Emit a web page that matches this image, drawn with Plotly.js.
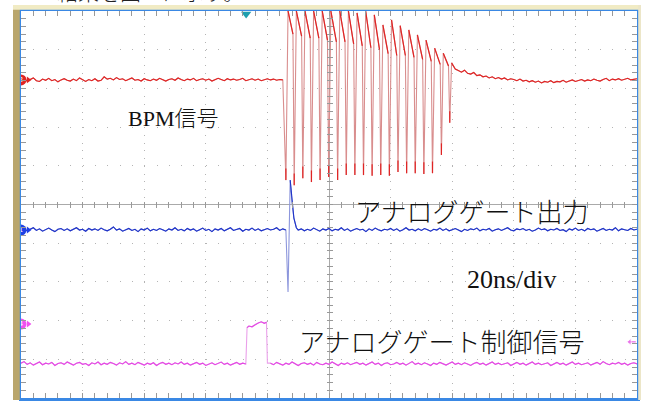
<!DOCTYPE html>
<html><head><meta charset="utf-8">
<script src="https://cdn.plot.ly/plotly-3.0.1.min.js"></script>
<style>html,body{margin:0;padding:0;background:#fff;}#chart{width:645px;height:401px;}</style>
</head><body><div id="chart"></div>
<script>
// ---- data (time in ns, 20 ns/div; amplitude in divisions) ----
// Ch2 (red, BPM signal) baseline samples, t = -100 .. -15 ns, step 1 ns
const redPre = [3.22,3.25,3.19,3.23,3.27,3.2,3.18,3.24,3.21,3.26,
3.2,3.23,3.17,3.22,3.25,3.21,3.19,3.24,3.2,3.27,
3.22,3.18,3.23,3.2,3.25,3.19,3.21,3.3,3.24,3.26,
3.22,3.28,3.23,3.25,3.2,3.24,3.27,3.21,3.23,3.19,
3.25,3.22,3.2,3.24,3.21,3.26,3.22,3.19,3.23,3.25,
3.21,3.27,3.23,3.2,3.24,3.22,3.26,3.2,3.23,3.25,
3.21,3.24,3.19,3.22,3.26,3.23,3.2,3.25,3.22,3.24,
3.21,3.23,3.26,3.2,3.22,3.25,3.21,3.24,3.2,3.23,
3.25,3.22,3.24,3.21,3.23,3.22];
// burst of the BPM signal
const troughT = [-14.0,-11.3,-8.5,-5.7,-2.9,-0.1,2.8,5.6,8.4,11.2,14.0,16.8,19.6,22.4,25.2,28.0,30.8,33.6,36.5,39.2];
const troughV = [0.63,0.5,0.68,0.58,0.63,0.71,0.63,0.76,0.76,0.76,0.74,0.76,0.74,0.84,0.81,0.81,0.79,0.81,1.28,2.11];
const peakT = [-13.3,-10.6,-7.8,-5.0,-2.2,0.6,3.5,6.3,9.1,11.9,14.7,17.5,20.3,23.1,25.9,28.7,31.5,34.3,37.1,39.8];
const peakV = [5.0,5.0,5.0,5.0,5.0,5.0,5.0,5.0,4.95,5.0,4.9,4.64,4.77,4.62,4.51,4.38,4.25,4.04,3.91,3.66];
const decayT = [-11.7,-8.9,-6.1,-3.3,-0.5,2.4,5.2,8.0,10.8,13.6,16.4,19.2,22.0,24.8,27.6,30.4,33.2,36.1,38.8];
const decayV = [4.4,4.35,4.3,4.3,4.25,4.2,4.2,4.15,4.1,4.05,4.0,3.9,3.85,3.85,3.8,3.75,3.7,3.62,3.58];
// Ch2 after the burst, t = 41 .. 100 ns
const redPost = [3.5,3.46,3.42,3.47,3.39,3.37,3.41,3.33,3.35,3.3,
3.32,3.27,3.3,3.25,3.28,3.24,3.27,3.22,3.25,3.23,
3.2,3.24,3.19,3.21,3.17,3.2,3.16,3.19,3.14,3.18,
3.16,3.2,3.15,3.18,3.17,3.21,3.16,3.19,3.22,3.18,
3.2,3.23,3.19,3.22,3.2,3.24,3.21,3.19,3.23,3.26,
3.2,3.24,3.22,3.25,3.21,3.23,3.26,3.22,3.24,3.25];

// Ch1 (blue, analog gate output), t = -100 .. -14 ns
const bluePre = [-0.66,-0.62,-0.68,-0.64,-0.6,-0.67,-0.63,-0.69,-0.65,-0.61,
-0.66,-0.7,-0.64,-0.62,-0.67,-0.63,-0.68,-0.65,-0.6,-0.66,
-0.64,-0.69,-0.62,-0.66,-0.63,-0.67,-0.61,-0.65,-0.68,-0.64,
-0.58,-0.66,-0.63,-0.69,-0.65,-0.62,-0.67,-0.64,-0.7,-0.63,
-0.66,-0.61,-0.68,-0.64,-0.67,-0.62,-0.65,-0.69,-0.63,-0.66,
-0.6,-0.67,-0.64,-0.68,-0.62,-0.66,-0.63,-0.69,-0.65,-0.61,
-0.67,-0.64,-0.7,-0.63,-0.66,-0.62,-0.68,-0.64,-0.6,-0.67,
-0.65,-0.62,-0.69,-0.64,-0.66,-0.61,-0.67,-0.63,-0.68,-0.65,
-0.62,-0.66,-0.64,-0.6,-0.67,-0.63,-0.66];
const bluePulseT = [-13.3,-12.6,-12.0,-11.4,-10.6];
const bluePulseV = [-2.26,0.63,0.05,-0.35,-0.6];
// Ch1, t = -10 .. 100 ns
const bluePost = [-0.66,-0.63,-0.68,-0.64,-0.67,-0.61,-0.65,-0.69,-0.63,-0.66,
-0.62,-0.68,-0.64,-0.66,-0.6,-0.67,-0.63,-0.69,-0.65,-0.62,
-0.66,-0.64,-0.7,-0.63,-0.67,-0.61,-0.65,-0.68,-0.64,-0.66,
-0.62,-0.67,-0.63,-0.69,-0.65,-0.6,-0.66,-0.64,-0.68,-0.63,
-0.67,-0.62,-0.65,-0.69,-0.64,-0.66,-0.61,-0.67,-0.63,-0.68,
-0.65,-0.62,-0.66,-0.7,-0.64,-0.67,-0.63,-0.65,-0.61,-0.68,
-0.64,-0.66,-0.62,-0.69,-0.65,-0.63,-0.67,-0.64,-0.6,-0.66,
-0.68,-0.63,-0.65,-0.62,-0.67,-0.64,-0.69,-0.66,-0.61,-0.65,
-0.63,-0.68,-0.64,-0.66,-0.62,-0.67,-0.65,-0.7,-0.63,-0.66,
-0.61,-0.67,-0.64,-0.68,-0.62,-0.65,-0.63,-0.69,-0.66,-0.62,
-0.67,-0.64,-0.66,-0.6,-0.68,-0.63,-0.65,-0.67,-0.62,-0.66,
-0.64];

// Ch4 (magenta, analog gate control), t = -100 .. -27 ns
const magPre = [-4.1,-4.06,-4.13,-4.09,-4.15,-4.11,-4.07,-4.14,-4.1,-4.12,
-4.08,-4.16,-4.11,-4.09,-4.13,-4.07,-4.12,-4.15,-4.1,-4.08,
-4.13,-4.11,-4.16,-4.09,-4.12,-4.07,-4.14,-4.1,-4.13,-4.08,
-4.11,-4.15,-4.09,-4.12,-4.06,-4.13,-4.1,-4.14,-4.08,-4.12,
-4.15,-4.1,-4.13,-4.09,-4.16,-4.11,-4.08,-4.13,-4.1,-4.14,
-4.09,-4.12,-4.07,-4.13,-4.1,-4.15,-4.11,-4.08,-4.13,-4.1,
-4.16,-4.12,-4.09,-4.14,-4.11,-4.07,-4.13,-4.1,-4.15,-4.12,
-4.08,-4.13,-4.1,-4.12];
const magPulseT = [-26.6,-26,-25,-24,-23,-22,-21,-20.3,-20.0];
const magPulseV = [-3.18,-3.14,-3.16,-3.1,-3.06,-3.03,-3.07,-3.04,-4.1];
// Ch4, t = -19 .. 100 ns
const magPost = [-4.1,-4.14,-4.08,-4.12,-4.15,-4.1,-4.13,-4.07,-4.12,-4.16,
-4.11,-4.09,-4.13,-4.1,-4.15,-4.08,-4.12,-4.14,-4.1,-4.13,
-4.07,-4.12,-4.16,-4.1,-4.13,-4.09,-4.14,-4.11,-4.08,-4.13,
-4.1,-4.15,-4.12,-4.07,-4.13,-4.1,-4.16,-4.11,-4.09,-4.14,
-4.12,-4.08,-4.13,-4.1,-4.15,-4.11,-4.06,-4.13,-4.1,-4.14,
-4.09,-4.12,-4.16,-4.1,-4.13,-4.08,-4.12,-4.15,-4.11,-4.07,
-4.13,-4.1,-4.14,-4.09,-4.12,-4.16,-4.11,-4.08,-4.13,-4.1,
-4.15,-4.12,-4.07,-4.13,-4.1,-4.14,-4.11,-4.09,-4.16,-4.12,
-4.08,-4.13,-4.1,-4.15,-4.11,-4.07,-4.13,-4.1,-4.14,-4.12,
-4.09,-4.16,-4.11,-4.08,-4.13,-4.1,-4.15,-4.12,-4.07,-4.13,
-4.1,-4.14,-4.11,-4.09,-4.15,-4.12,-4.08,-4.13,-4.06,-4.11,
-4.14,-4.1,-4.12,-4.08,-4.13,-4.1,-4.15,-4.11,-4.09,-4.12];

// scope markers
const chLabels = ['2','1','4'];
const chOffsets = [3.22,-0.66,-3.09];
const trigT = -26.9;
const trigLevel = -3.55;

const labels = [
  {text:'BPM信号', t:-50.8, v:2.235, size:22},
  {text:'アナログゲート出力', t:46.4, v:-0.245, size:26},
  {text:'20ns/div', t:59.4, v:-1.925, size:26},
  {text:'アナログゲート制御信号', t:36.4, v:-3.58, size:26}
];
const topText = '結果を図３に示す。';

// ---- helpers ----
const seq = (s, n) => Array.from({length:n}, (_, i) => s + i);
const RED='#e02424', PINK='#d98e8e', BLUE='#1f33c8', LBLUE='#8c96dc', MAG='#e449e4', LMAG='#eaa0ea';
const TIP = 0.3;

// red full waveform
const redX = seq(-100, redPre.length), redY = redPre.slice();
for (let i = 0; i < troughT.length; i++) {
  redX.push(troughT[i], peakT[i]); redY.push(troughV[i], peakV[i]);
  if (i < decayT.length) { redX.push(decayT[i]); redY.push(decayV[i]); }
}
const postX = seq(41, redPost.length);
redX.push(...postX); redY.push(...redPost);
// red overlays
const decX = [], decY = [];
for (let i = 0; i < decayT.length; i++) { decX.push(peakT[i], decayT[i], null); decY.push(peakV[i], decayV[i], null); }
for (let i = 0; i < troughT.length; i++) { decX.push(troughT[i], troughT[i], null); decY.push(troughV[i] + TIP, troughV[i], null); }
const redPostX = [peakT[peakT.length-1], ...postX], redPostY = [peakV[peakV.length-1], ...redPost];

// blue
const bPreX = seq(-100, bluePre.length), bPostX = seq(-10, bluePost.length);
const blueX = [...bPreX, ...bluePulseT, ...bPostX], blueY = [...bluePre, ...bluePulseV, ...bluePost];
const blueDarkX = [...bPreX, null, ...bluePulseT.slice(1), ...bPostX];
const blueDarkY = [...bluePre, null, ...bluePulseV.slice(1), ...bluePost];

// magenta
const mPreX = seq(-100, magPre.length), mPostX = seq(-19, magPost.length);
const magX = [...mPreX, ...magPulseT, ...mPostX], magY = [...magPre, ...magPulseV, ...magPost];
const magDarkX = [...mPreX, null, ...magPulseT.slice(0, -1), null, ...mPostX];
const magDarkY = [...magPre, null, ...magPulseV.slice(0, -1), null, ...magPost];

const L = (x, y, color, w) => ({type:'scatter', mode:'lines', x, y, line:{color, width:w||1}, hoverinfo:'skip', showlegend:false, connectgaps:false});

const traces = [
  L(redX, redY, PINK, 1.1),
  L(seq(-100, redPre.length), redPre, RED, 1.1),
  L(decX, decY, RED, 1.2),
  L(redPostX, redPostY, RED, 1.1),
  L(blueX, blueY, LBLUE, 1.1),
  L(blueDarkX, blueDarkY, BLUE, 1.1),
  L(magX, magY, LMAG, 1.1),
  L(magDarkX, magDarkY, MAG, 1.1),
  {type:'scatter', mode:'markers+text', x:chLabels.map(() => -100), y:chOffsets, text:chLabels,
   textposition:'middle center', textfont:{color:'#fff', size:7, family:'DejaVu Sans'},
   marker:{size:11, color:[RED,'#1e40e6','#f050f0']}, cliponaxis:false, hoverinfo:'skip', showlegend:false},
  {type:'scatter', mode:'markers', x:chLabels.map(() => -97.6), y:chOffsets,
   marker:{size:6, symbol:'triangle-right', color:[RED,'#1e40e6','#f050f0']}, cliponaxis:false, hoverinfo:'skip', showlegend:false},
  {type:'scatter', mode:'markers', x:[trigT], y:[4.92], marker:{size:9, symbol:'triangle-down', color:'#1f9fae'},
   cliponaxis:false, hoverinfo:'skip', showlegend:false},
  {type:'scatter', mode:'lines+markers', x:[97.6, 99.6], y:[trigLevel, trigLevel], line:{color:MAG, width:1},
   marker:{size:[6,0], symbol:'triangle-left', color:MAG}, cliponaxis:false, hoverinfo:'skip', showlegend:false},
  {type:'scatter', mode:'lines', x:[null], y:[null], xaxis:'x2', yaxis:'y2', hoverinfo:'skip', showlegend:false}
];

const TICK = '#999999';
const fontFam = 'Liberation Serif, Noto Sans CJK JP, serif';
const layout = {
  width:645, height:401,
  margin:{l:21, r:8, t:11, b:3, pad:0},
  paper_bgcolor:'#ffffff', plot_bgcolor:'#ffffff',
  showlegend:false,
  xaxis:{range:[-100,100], tick0:-100, dtick:20, showticklabels:false, ticks:'inside', ticklen:5, tickcolor:TICK,
    minor:{dtick:4, tick0:-100, ticks:'inside', ticklen:5, tickcolor:TICK, showgrid:false},
    showgrid:true, gridcolor:'#b4b4b4', gridwidth:1, griddash:'1px,6.74px',
    zeroline:true, zerolinecolor:'#aaaaaa', zerolinewidth:1,
    showline:true, linecolor:'#3a88e4', linewidth:2.5, mirror:'allticks', fixedrange:true},
  yaxis:{range:[-5,5], tick0:-5, dtick:1, showticklabels:false, ticks:'inside', ticklen:5, tickcolor:TICK,
    minor:{dtick:0.2, tick0:-5, ticks:'inside', ticklen:5, tickcolor:TICK, showgrid:false},
    showgrid:true, gridcolor:'#b4b4b4', gridwidth:1, griddash:'1px,11.32px',
    zeroline:true, zerolinecolor:'#aaaaaa', zerolinewidth:1,
    showline:true, linecolor:'#3a88e4', linewidth:2.5, mirror:'allticks', fixedrange:true},
  xaxis2:{overlaying:'x', anchor:'free', position:0.5 - 3/387, range:[-100,100], tick0:-100, dtick:20,
    showticklabels:false, ticks:'inside', ticklen:6, tickcolor:TICK,
    minor:{dtick:4, tick0:-100, ticks:'inside', ticklen:6, tickcolor:TICK, showgrid:false},
    showgrid:false, zeroline:false, showline:false},
  yaxis2:{overlaying:'y', anchor:'free', position:0.5 - 3/616, side:'left', range:[-5,5], tick0:-5, dtick:1,
    showticklabels:false, ticks:'inside', ticklen:6, tickcolor:TICK,
    minor:{dtick:0.2, tick0:-5, ticks:'inside', ticklen:6, tickcolor:TICK, showgrid:false},
    showgrid:false, zeroline:false, showline:false},
  shapes:[
    {type:'rect', xref:'paper', yref:'paper', x0:-8/616, x1:-1.2/616, y0:-2/387, y1:1+6/387, fillcolor:'#b9a66c', line:{width:0}},
    {type:'rect', xref:'paper', yref:'paper', x0:-8/616, x1:1+4/616, y0:1+1.2/387, y1:1+6/387, fillcolor:'#f1ebc4', line:{width:0}},
    {type:'rect', xref:'paper', yref:'paper', x0:1+1.2/616, x1:1+4/616, y0:-2/387, y1:1+6/387, fillcolor:'#ece6c8', line:{width:0}}
  ],
  annotations: labels.map(a => ({xref:'x', yref:'y', x:a.t, y:a.v, text:a.text, showarrow:false,
    xanchor:'center', yanchor:'middle', font:{family:fontFam, size:a.size, color:'#111111', weight:300}})).concat([
    {xref:'paper', yref:'paper', x:(150-21)/616, y:(398+7)/387, text:topText, showarrow:false,
     xanchor:'center', yanchor:'middle', font:{family:fontFam, size:21, color:'#222222', weight:300}}
  ])
};

Plotly.newPlot('chart', traces, layout, {staticPlot:true, displayModeBar:false});
</script>
</body></html>
